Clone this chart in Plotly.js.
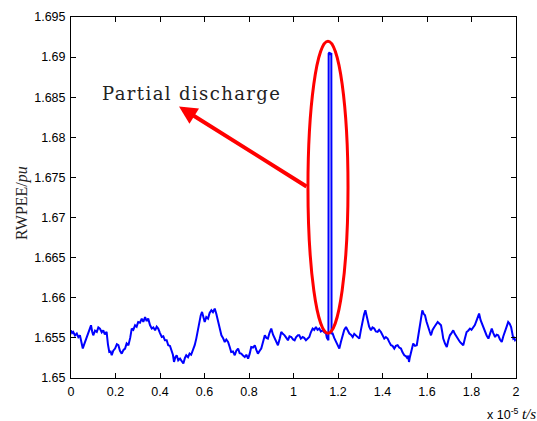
<!DOCTYPE html>
<html>
<head>
<meta charset="utf-8">
<script src="https://cdn.plot.ly/plotly-3.0.1.min.js"></script>
<style>html,body{margin:0;padding:0;background:#fff;}#chart{width:537px;height:421px;}</style>
</head>
<body>
<div id="chart"></div>
<script>
// time in units of 1e-5 s
const tValues = [
0.000,0.005,0.010,0.018,0.026,0.033,0.040,0.047,0.053,0.058,0.063,0.070,0.078,0.084,0.090,0.095,0.100,0.108,0.116,0.123,0.130,0.138,0.145,0.152,0.160,0.166,0.172,0.178,0.183,0.190,0.198,0.206,0.213,0.220,0.228,0.236,0.243,0.250,0.258,0.266,
0.273,0.280,0.288,0.295,0.302,0.310,0.318,0.325,0.333,0.340,0.347,0.355,0.363,0.370,0.378,0.385,0.392,0.400,0.408,0.415,0.422,0.430,0.437,0.445,0.453,0.458,0.463,0.469,0.475,0.482,0.490,0.498,0.505,
0.512,0.518,0.526,0.533,0.540,0.548,0.556,0.563,0.570,0.578,0.583,0.589,0.595,0.601,0.608,0.616,0.623,0.631,0.638,0.646,0.653,0.661,0.668,0.676,0.683,0.691,0.698,0.706,0.713,0.720,0.728,0.736,0.743,0.751,0.758,0.765,0.773,0.781,0.788,0.796,0.803,
0.810,0.818,0.826,0.833,0.840,0.848,0.855,0.863,0.871,0.878,0.885,0.892,0.900,0.908,0.916,0.923,0.930,0.938,0.945,0.952,0.960,0.968,0.975,0.982,0.990,0.998,1.005,1.012,1.020,
1.026,1.033,1.041,1.048,1.056,1.063,1.071,1.078,1.086,1.093,1.101,1.108,1.116,1.123,1.131,1.138,1.146,1.150,1.154,
1.157,1.158,1.162,1.166,1.170,1.171,
1.176,1.183,1.191,1.198,1.206,1.213,1.221,1.228,1.236,1.243,1.251,1.258,1.266,1.273,1.281,1.288,1.296,1.303,1.311,1.317,1.323,1.328,1.333,1.340,1.348,1.355,1.363,1.370,1.378,1.385,1.393,1.400,1.408,1.415,1.423,1.430,1.438,1.445,1.453,1.460,1.468,1.475,1.483,1.490,1.498,
1.506,1.513,1.516,1.519,1.523,1.528,1.533,1.538,1.546,1.554,1.561,1.569,1.574,1.579,1.585,1.591,1.598,1.606,1.612,1.618,1.625,1.633,1.640,1.648,1.655,1.663,1.668,1.673,1.681,1.689,1.696,1.703,1.710,1.718,1.725,1.733,1.740,1.748,1.755,1.763,1.770,1.778,1.785,1.793,1.800,
1.808,1.815,1.823,1.828,1.834,1.841,1.849,1.855,1.861,1.868,1.876,1.883,1.891,1.898,1.906,1.913,1.920,1.928,1.936,1.943,1.951,1.958,1.965,1.971,1.978,1.983,1.988,1.992,1.996,2.000
];
// RWPEE in pu
const rwpeeValues = [
1.65595,1.65560,1.65574,1.65530,1.65554,1.65510,1.65532,1.65420,1.65367,1.65410,1.65449,1.65490,1.65574,1.65610,1.65657,1.65580,1.65532,1.65590,1.65574,1.65630,1.65616,1.65570,1.65595,1.65545,1.65574,1.65420,1.65324,1.65330,1.65283,1.65340,1.65367,1.65420,1.65408,1.65340,1.65304,1.65350,1.65367,1.65430,1.65408,1.65500,
1.65616,1.65600,1.65657,1.65640,1.65698,1.65690,1.65740,1.65700,1.65760,1.65710,1.65740,1.65660,1.65616,1.65630,1.65595,1.65640,1.65616,1.65560,1.65511,1.65520,1.65470,1.65470,1.65408,1.65400,1.65324,1.65290,1.65200,1.65260,1.65283,1.65220,1.65242,1.65200,1.65180,
1.65250,1.65283,1.65260,1.65304,1.65290,1.65345,1.65410,1.65491,1.65600,1.65740,1.65780,1.65823,1.65740,1.65698,1.65760,1.65740,1.65810,1.65844,1.65820,1.65865,1.65800,1.65698,1.65610,1.65532,1.65500,1.65449,1.65480,1.65449,1.65390,1.65324,1.65330,1.65283,1.65340,1.65367,1.65310,1.65304,1.65280,1.65262,1.65290,1.65242,1.65300,
1.65387,1.65380,1.65408,1.65350,1.65304,1.65340,1.65367,1.65450,1.65532,1.65500,1.65491,1.65560,1.65616,1.65540,1.65491,1.65440,1.65408,1.65490,1.65574,1.65550,1.65532,1.65500,1.65470,1.65520,1.65511,1.65480,1.65470,1.65510,1.65532,
1.65532,1.65490,1.65511,1.65500,1.65470,1.65490,1.65511,1.65570,1.65616,1.65600,1.65636,1.65600,1.65616,1.65580,1.65595,1.65570,1.65554,1.65500,1.65470,
1.65470,1.69045,1.69061,1.69030,1.69050,1.65554,
1.65554,1.65500,1.65449,1.65400,1.65367,1.65450,1.65532,1.65600,1.65636,1.65590,1.65554,1.65540,1.65511,1.65550,1.65532,1.65520,1.65491,1.65600,1.65740,1.65790,1.65844,1.65780,1.65698,1.65640,1.65595,1.65630,1.65616,1.65580,1.65574,1.65600,1.65574,1.65530,1.65491,1.65510,1.65491,1.65450,1.65408,1.65400,1.65367,1.65400,1.65408,1.65380,1.65367,1.65320,1.65283,
1.65270,1.65242,1.65280,1.65200,1.65260,1.65324,1.65390,1.65429,1.65400,1.65408,1.65530,1.65657,1.65760,1.65844,1.65800,1.65782,1.65700,1.65616,1.65580,1.65532,1.65600,1.65636,1.65660,1.65698,1.65680,1.65657,1.65580,1.65491,1.65430,1.65387,1.65470,1.65532,1.65560,1.65595,1.65550,1.65511,1.65490,1.65449,1.65430,1.65408,1.65490,1.65574,1.65590,1.65616,1.65600,
1.65636,1.65660,1.65719,1.65760,1.65803,1.65720,1.65657,1.65620,1.65574,1.65530,1.65491,1.65560,1.65616,1.65560,1.65511,1.65540,1.65532,1.65480,1.65449,1.65520,1.65574,1.65640,1.65698,1.65680,1.65636,1.65560,1.65491,1.65500,1.65470,1.65480
];
const xTickVals = [0,0.2,0.4,0.6,0.8,1,1.2,1.4,1.6,1.8,2];
const yTickVals = [1.65,1.655,1.66,1.665,1.67,1.675,1.68,1.685,1.69,1.695];

const trace = {
  x: tValues, y: rwpeeValues, type: 'scatter', mode: 'lines',
  line: {color: '#0000ff', width: 2}, hoverinfo: 'skip'
};
const axisCommon = {
  showline: true, mirror: 'ticks', linecolor: '#000', linewidth: 1,
  ticks: 'inside', ticklen: 5, tickcolor: '#000', tickwidth: 1,
  showgrid: false, zeroline: false,
  tickfont: {family: 'Liberation Sans, Arial, sans-serif', size: 12.5, color: '#000'}
};
const layout = {
  width: 537, height: 421,
  margin: {l: 71, r: 21, t: 17, b: 43},
  paper_bgcolor: '#fff', plot_bgcolor: '#fff', showlegend: false,
  xaxis: Object.assign({}, axisCommon, {range: [0, 2], tickvals: xTickVals, ticklabelstandoff: 2}),
  yaxis: Object.assign({}, axisCommon, {range: [1.65, 1.695], tickvals: yTickVals, ticklabelstandoff: 2}),
  shapes: [{
    type: 'circle', xref: 'x', yref: 'y',
    x0: 1.065, x1: 1.245, y0: 1.65557, y1: 1.69199,
    line: {color: '#ff0000', width: 3}
  }],
  annotations: [
    {x: 0.4854, y: 1.68385, ax: 1.0652, ay: 1.67376, xref: 'x', yref: 'y', axref: 'x', ayref: 'y',
     text: '', showarrow: true, arrowhead: 2, arrowsize: 0.9, arrowwidth: 4, arrowcolor: '#ff0000'},
    {x: 0.5416, y: 1.68547, xref: 'x', yref: 'y', showarrow: false,
     text: '<span style="letter-spacing:1.4px">Partial discharge</span>', font: {family: 'DejaVu Serif, serif', size: 18, color: '#222'}},
    {x: -0.110, y: 0.485, xref: 'paper', yref: 'paper', xanchor: 'center', yanchor: 'middle', showarrow: false, textangle: -90,
     text: 'RWPEE/<i>pu</i>', font: {family: 'Liberation Serif, Times New Roman, serif', size: 16, color: '#222'}},
    {x: 1.05, y: -0.1, xref: 'paper', yref: 'paper', xanchor: 'right', yanchor: 'middle', showarrow: false,
     text: 'x 10<sup>-5</sup> <span style="font-family:Liberation Serif, serif;font-style:italic;font-size:15px">t/s</span>',
     font: {family: 'Liberation Sans, Arial, sans-serif', size: 12.5, color: '#000'}}
  ]
};
Plotly.newPlot('chart', [trace], layout, {displayModeBar: false, staticPlot: true});
</script>
</body>
</html>
